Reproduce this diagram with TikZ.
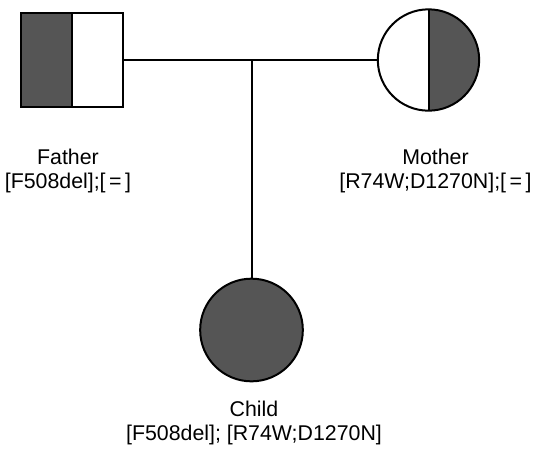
\documentclass[tikz,border=0pt]{standalone}
\usepackage{fontspec}
\setmainfont{Liberation Sans}
\usepackage{tikz}

\definecolor{affected}{RGB}{85,85,85}

\begin{document}
\begin{tikzpicture}[x=0.75pt,y=0.75pt,yscale=-1,xscale=1]
\useasboundingbox (0,0) rectangle (537,455);

% Father
\node [draw, line width=1.5pt, minimum width=76.5pt, minimum height=71pt, inner sep=0pt,
  path picture={\fill [affected] (path picture bounding box.south west) rectangle (path picture bounding box.north);
  \draw [line width=1.5pt] (path picture bounding box.south) -- (path picture bounding box.north);}]
  (father) at (71.5,60) {};
% Mother
\node [draw, circle, line width=1.5pt, minimum size=76pt, inner sep=0pt,
  path picture={\fill [affected] (path picture bounding box.south) rectangle (path picture bounding box.north east);
  \draw [line width=1.5pt] (path picture bounding box.south) -- (path picture bounding box.north);}]
  (mother) at (428.5,60) {};
% Child
\node [draw, circle, fill=affected, line width=1.5pt, minimum size=77pt, inner sep=0pt] (child) at (251.5,330) {};

%Straight Lines
\coordinate (mating) at (251.5,60);
\draw [line width=1.5pt] (father.east) -- (mother.west) ;
\draw [line width=1.5pt] (mating) -- (child.north) ;

% Text Node
\node [align=center, font=\fontsize{16}{17.3}\selectfont] (fatherlabel) at (68,171) {Father\\{[F508del];[\,=\,]}};
% Text Node
\node [align=center, font=\fontsize{16}{17.3}\selectfont] (motherlabel) at (435.5,171) {Mother\\{[R74W;D1270N];[\,=\,]}};
% Text Node
\node [align=center, font=\fontsize{16}{17.3}\selectfont] (childlabel) at (254,423) {Child\\{[F508del]; [R74W;D1270N]}};

\end{tikzpicture}
\end{document}
